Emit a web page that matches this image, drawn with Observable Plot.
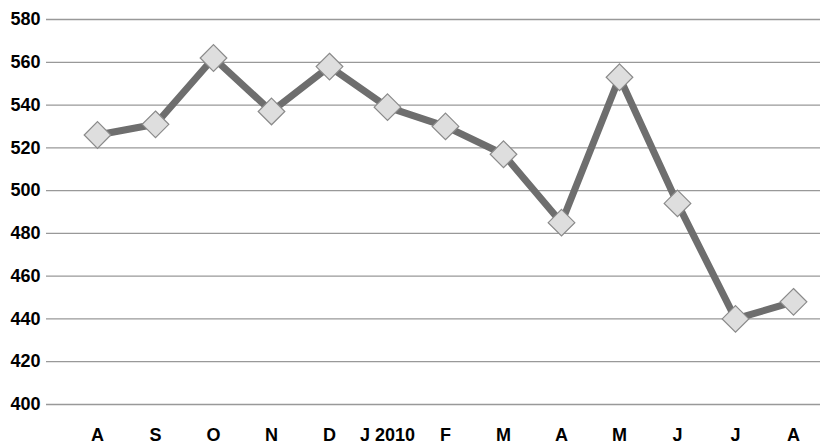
<!DOCTYPE html>
<html><head>
<script src="https://cdn.jsdelivr.net/npm/d3@7"></script>
<script src="https://cdn.jsdelivr.net/npm/@observablehq/plot@0.6"></script>
<style>body{margin:0;background:#fff}</style>
</head><body><div id="c"></div>
<script>
const months = ["A1","S","O","N","D","J","F","M1","A2","M2","J1","J2","A3"];
const labels = ["A","S","O","N","D","J 2010","F","M","A","M","J","J","A"];
const values = [526,531,562,537,558,539,530,517,485,553,494,440,448];
const yTicks = [400,420,440,460,480,500,520,540,560,580];
const data = months.map((m,i)=>({m, v: values[i]}));
const chart = Plot.plot({
  width: 830, height: 447,
  marginLeft: 46, marginRight: 10, marginTop: 19, marginBottom: 43,
  style: {fontFamily: "Liberation Sans, Arial, sans-serif", fontSize: "18px", fontWeight: "bold", color: "#000", background: "#fff"},
  x: {type: "point", domain: months, range: [95, 795], padding: 0, label: null, tickSize: 0, tickPadding: 24,
      tickFormat: (d)=>labels[months.indexOf(d)]},
  y: {domain: [400,580], ticks: yTicks, label: null, tickSize: 0, tickPadding: 6},
  marks: [
    Plot.ruleY(yTicks, {stroke: "#999", strokeWidth: 1.3, strokeOpacity: 1}),
    Plot.line(data, {x: "m", y: "v", stroke: "#6e6e6e", strokeWidth: 7}),
    Plot.dot(data, {x: "m", y: "v", symbol: "diamond2", r: 12, fill: "#dedede", stroke: "#8a8a8a", strokeWidth: 1.2})
  ]
});
document.getElementById("c").append(chart);
</script></body></html>
